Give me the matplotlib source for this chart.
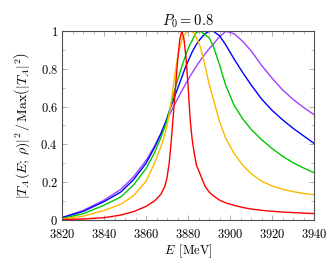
import matplotlib
matplotlib.use("Agg")
from matplotlib import pyplot as plt
from matplotlib.ticker import MultipleLocator

plt.rcParams["mathtext.fontset"] = "cm"
plt.rcParams["font.family"] = "serif"
plt.rcParams["font.serif"] = ["DejaVu Serif"]

# energy grid [MeV]
energy = [3820, 3830, 3840, 3848, 3854, 3860, 3864, 3867, 3869, 3870,
          3871, 3872, 3873, 3874, 3875, 3876, 3877, 3878, 3879, 3880,
          3881, 3882, 3883, 3884, 3886, 3888, 3890, 3892, 3895, 3898,
          3902, 3906, 3910, 3915, 3920, 3925, 3930, 3935, 3940]

# normalised |T_A|^2 for each curve
red = [0.002, 0.005, 0.012, 0.026, 0.044, 0.072, 0.100, 0.135, 0.180, 0.225,
       0.300, 0.420, 0.560, 0.700, 0.840, 0.950, 1.000, 0.960, 0.860, 0.710,
       0.530, 0.420, 0.350, 0.290, 0.235, 0.180, 0.148, 0.128, 0.105, 0.090,
       0.077, 0.066, 0.058, 0.051, 0.046, 0.042, 0.039, 0.036, 0.034]
orange = [0.005, 0.020, 0.050, 0.083, 0.128, 0.205, 0.300, 0.385, 0.455, 0.500,
          0.560, 0.630, 0.710, 0.790, 0.860, 0.910, 0.950, 0.975, 0.990, 0.998,
          1.000, 0.995, 0.985, 0.965, 0.910, 0.820, 0.720, 0.640, 0.520, 0.430,
          0.350, 0.290, 0.245, 0.205, 0.180, 0.162, 0.150, 0.140, 0.134]
green = [0.008, 0.033, 0.078, 0.122, 0.185, 0.272, 0.355, 0.435, 0.495, 0.530,
         0.570, 0.615, 0.660, 0.700, 0.740, 0.775, 0.810, 0.845, 0.875, 0.905,
         0.930, 0.950, 0.975, 0.993, 0.998, 0.980, 0.965, 0.920, 0.820, 0.710,
         0.605, 0.535, 0.480, 0.425, 0.378, 0.337, 0.303, 0.275, 0.250]
blue = [0.012, 0.045, 0.097, 0.148, 0.213, 0.300, 0.383, 0.455, 0.510, 0.540,
        0.575, 0.605, 0.635, 0.665, 0.695, 0.725, 0.755, 0.785, 0.815, 0.840,
        0.865, 0.890, 0.910, 0.930, 0.960, 0.985, 0.998, 0.998, 0.975, 0.925,
        0.850, 0.780, 0.715, 0.640, 0.580, 0.530, 0.485, 0.445, 0.405]
purple = [0.013, 0.050, 0.105, 0.162, 0.228, 0.315, 0.390, 0.455, 0.505, 0.530,
          0.553, 0.576, 0.598, 0.620, 0.641, 0.662, 0.683, 0.703, 0.723, 0.742,
          0.761, 0.779, 0.797, 0.814, 0.847, 0.877, 0.905, 0.930, 0.970, 0.998,
          0.985, 0.945, 0.895, 0.818, 0.750, 0.688, 0.638, 0.595, 0.557]

series = [purple, blue, green, orange, red]
colors = ["#a040ff", "#0000ff", "#00c800", "#ffb700", "#ff0000"]

fig = plt.figure(figsize=(3.32, 2.60), dpi=100)
ax = fig.add_axes([0.187, 0.154, 0.759, 0.727])

for vals, c in zip(series, colors):
    ax.plot(energy, vals, color=c, lw=1.0)

ax.set_xlim(3820, 3940)
ax.set_ylim(0, 1)

xt = [3820, 3840, 3860, 3880, 3900, 3920, 3940]
yt = [0, 0.2, 0.4, 0.6, 0.8, 1]
ax.set_xticks(xt)
ax.set_xticklabels(["$%d$" % v for v in xt])
ax.set_yticks(yt)
ax.set_yticklabels(["$0$", "$0.2$", "$0.4$", "$0.6$", "$0.8$", "$1$"])
ax.xaxis.set_minor_locator(MultipleLocator(5))
ax.yaxis.set_minor_locator(MultipleLocator(0.1))
ax.tick_params(which="both", direction="in", top=True, right=True,
               color="#a0a0a0", labelsize=9)
ax.tick_params(axis="x", pad=5.5)
ax.tick_params(axis="y", pad=3)
ax.tick_params(which="major", length=3.5, width=0.6)
ax.tick_params(which="minor", length=2, width=0.5)
for s in ax.spines.values():
    s.set_color("#505050")
    s.set_linewidth(0.8)

ax.set_title(r"$P_0 = 0.8$", fontsize=10.5, pad=4)
ax.set_xlabel(r"$E\ \,[\mathrm{MeV}]$", fontsize=9, labelpad=1)
ax.set_ylabel(r"$|T_A(E;\,\rho)|^2\,/\,\mathrm{Max}\left(|T_A|^2\right)$",
              fontsize=10, labelpad=6)

fig.savefig("out.png", dpi=100)
